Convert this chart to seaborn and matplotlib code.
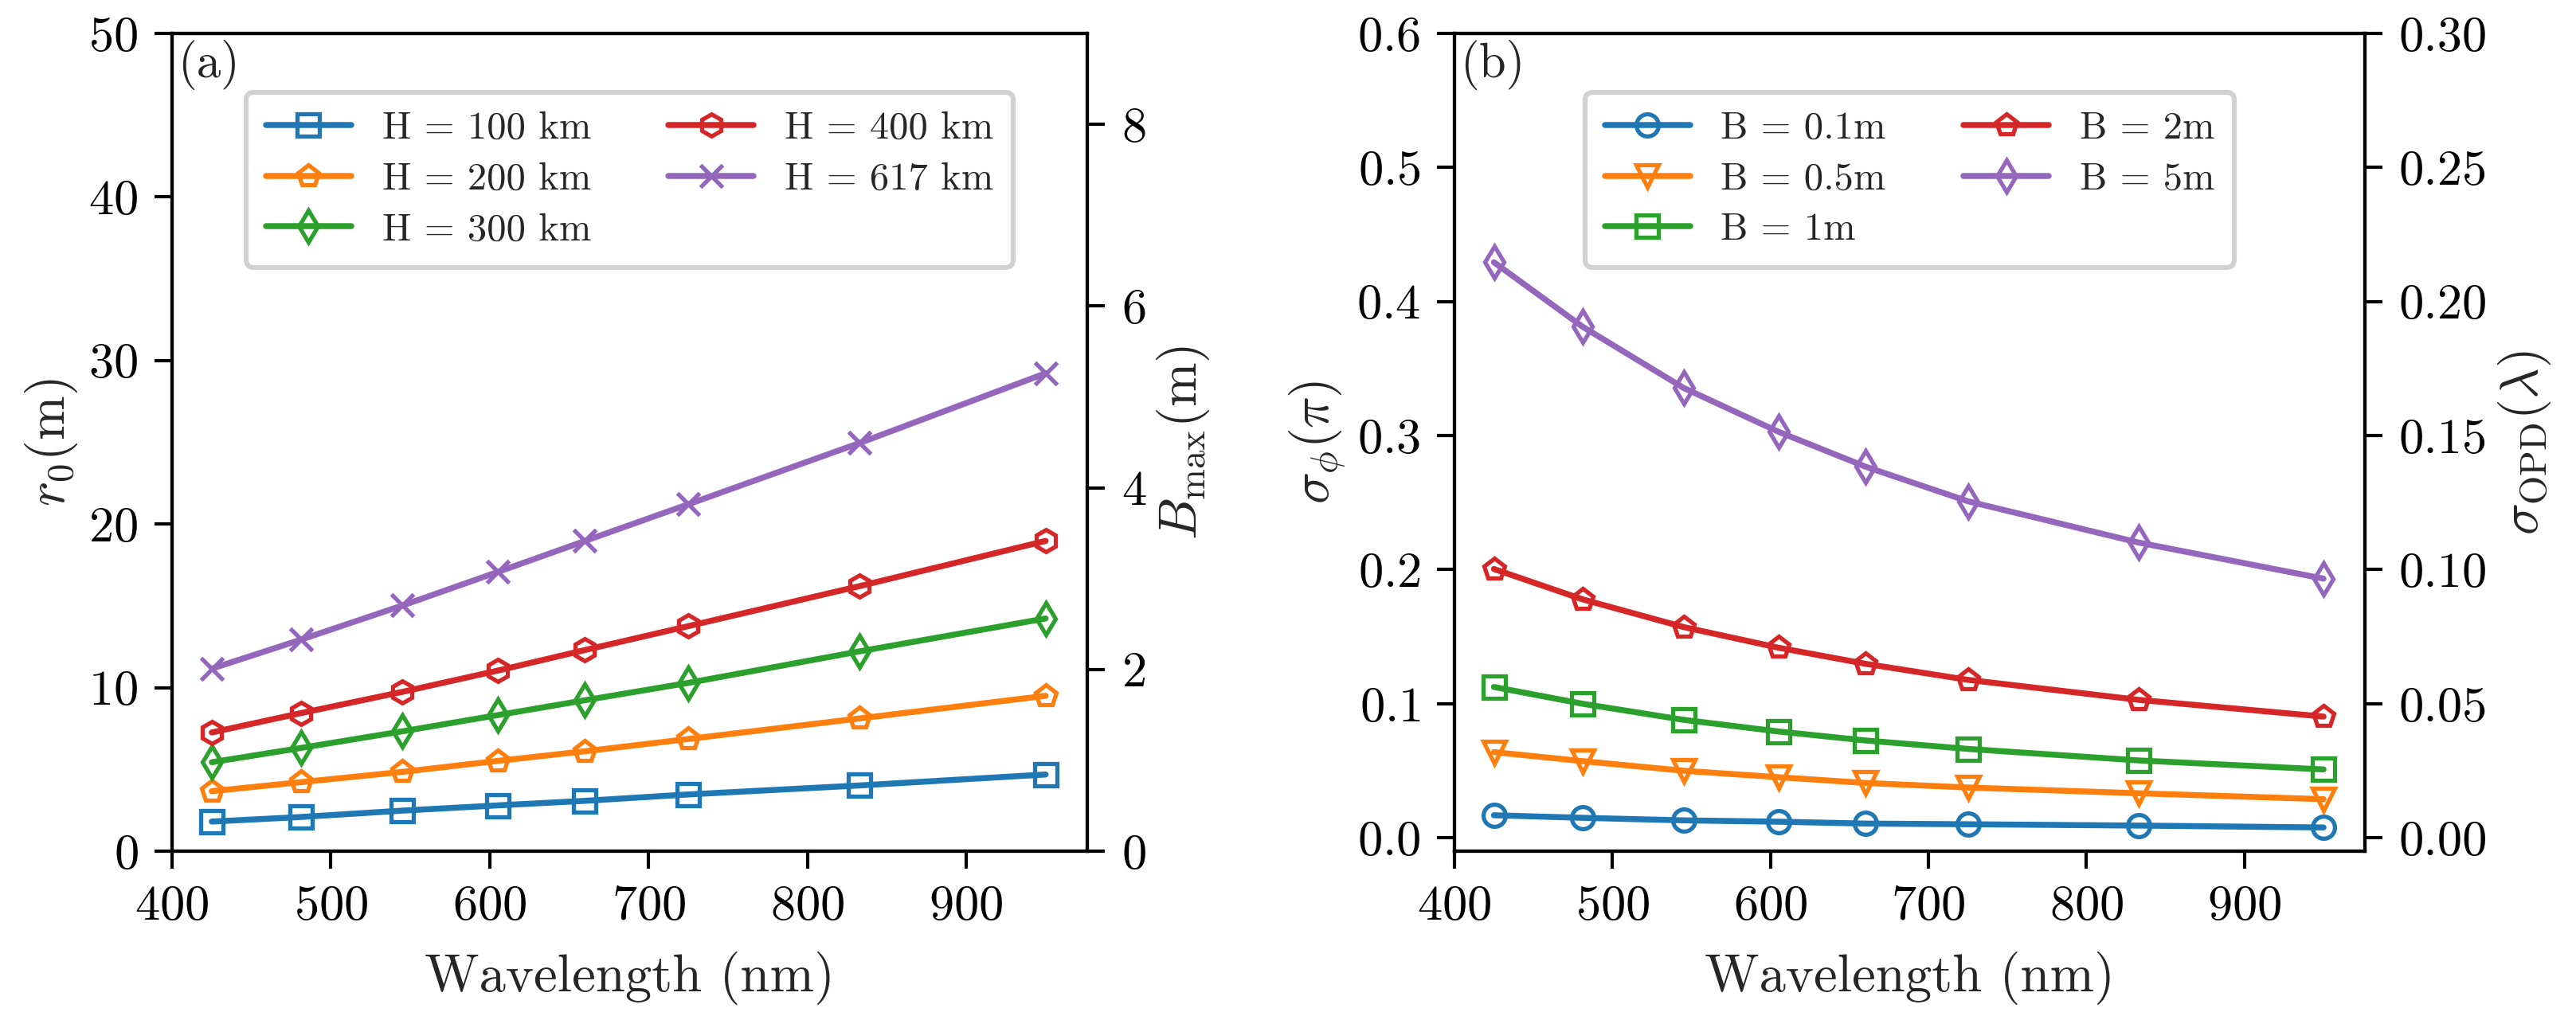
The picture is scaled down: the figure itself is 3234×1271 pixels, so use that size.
import numpy as np
import pandas as pd
import matplotlib
matplotlib.use("Agg")
import matplotlib.pyplot as plt
import seaborn as sns

# === datos ===
wavelength = [425, 481, 545, 605, 660, 725, 833, 950]

# (a) r0 (m) para varias alturas H
r0_h100 = [1.81, 2.09, 2.48, 2.80, 3.08, 3.47, 4.02, 4.69]
r0_h200 = [3.67, 4.22, 4.85, 5.52, 6.11, 6.86, 8.12, 9.50]
r0_h300 = [5.44, 6.31, 7.33, 8.32, 9.23, 10.29, 12.22, 14.23]
r0_h400 = [7.26, 8.44, 9.74, 11.04, 12.30, 13.76, 16.21, 18.97]
r0_h617 = [11.16, 12.93, 15.02, 17.07, 18.97, 21.21, 24.96, 29.22]
labels_a = ["H = 100 km", "H = 200 km", "H = 300 km", "H = 400 km", "H = 617 km"]
markers_a = ["s", "p", "d", "h", "x"]

# (b) sigma_phi (pi) para varias lineas de base B
sig_b01 = [0.0168, 0.0149, 0.0130, 0.0120, 0.0106, 0.0101, 0.0091, 0.0077]
sig_b05 = [0.0639, 0.0572, 0.0500, 0.0452, 0.0409, 0.0375, 0.0332, 0.0288]
sig_b1 = [0.1125, 0.1000, 0.0880, 0.0793, 0.0726, 0.0663, 0.0577, 0.0510]
sig_b2 = [0.2005, 0.1779, 0.1572, 0.1418, 0.1298, 0.1178, 0.1029, 0.0904]
sig_b5 = [0.4293, 0.3813, 0.3356, 0.3029, 0.2769, 0.2510, 0.2202, 0.1933]
labels_b = ["B = 0.1m", "B = 0.5m", "B = 1m", "B = 2m", "B = 5m"]
markers_b = ["o", "v", "s", "p", "d"]

# === estilo ===
sns.set_style("ticks")
plt.rcParams.update({
    "font.family": "serif",
    "font.serif": ["cmr10", "DejaVu Serif"],
    "mathtext.fontset": "cm",
    "axes.formatter.use_mathtext": True,
    "axes.unicode_minus": False,
    "axes.linewidth": 1.5,
    "xtick.major.width": 1.5,
    "ytick.major.width": 1.5,
    "xtick.major.size": 7.8,
    "ytick.major.size": 7.8,
    "xtick.major.pad": 7.5,
    "ytick.major.pad": 7.5,
    "xtick.color": "black",
    "ytick.color": "black",
    "axes.edgecolor": "black",
    "xtick.labelsize": 22.5,
    "ytick.labelsize": 22.5,
    "axes.labelsize": 24,
})
colors = sns.color_palette("tab10")

fig = plt.figure(figsize=(16.17, 6.355), dpi=200)
ax_a = fig.add_axes([0.0668, 0.1589, 0.3553, 0.8081])
ax_b = fig.add_axes([0.5646, 0.1589, 0.3535, 0.8081])


def draw(ax, series, labels, markers):
    for i, (vals, lab, mk) in enumerate(zip(series, labels, markers)):
        df = pd.DataFrame({"wl": wavelength, "val": vals})
        sns.lineplot(data=df, x="wl", y="val", ax=ax, color=colors[i],
                     marker=mk, markersize=10, markerfacecolor="none",
                     markeredgecolor=colors[i], markeredgewidth=1.9,
                     linewidth=2.7, label=lab)


def legend(ax):
    leg = ax.legend(loc="upper center", bbox_to_anchor=(0.5, 0.952), ncol=2,
                    fontsize=17.5, handlelength=2.2, columnspacing=2.0,
                    labelspacing=0.4, edgecolor="0.82", framealpha=1,
                    borderpad=0.5)
    leg.get_frame().set_linewidth(2.2)


# --- panel (a) ---
draw(ax_a, [r0_h100, r0_h200, r0_h300, r0_h400, r0_h617], labels_a, markers_a)
ax_a.set_xlim(400, 976.25)
ax_a.set_ylim(0, 50)
ax_a.set_xlabel("Wavelength (nm)", labelpad=10)
ax_a.set_ylabel(r"$r_0$(m)")
legend(ax_a)
ax_a.text(0.006, 0.992, "(a)", transform=ax_a.transAxes, fontsize=22,
          va="top", ha="left")
tw_a = ax_a.twinx()
tw_a.set_ylim(0, 9)
tw_a.set_yticks([0, 2, 4, 6, 8])
tw_a.set_ylabel(r"$B_{\rm max}$(m)")

# --- panel (b) ---
draw(ax_b, [sig_b01, sig_b05, sig_b1, sig_b2, sig_b5], labels_b, markers_b)
ax_b.set_xlim(400, 976.25)
ax_b.set_ylim(-0.01, 0.6)
ax_b.set_xlabel("Wavelength (nm)", labelpad=10)
ax_b.set_ylabel(r"$\sigma_\phi(\pi)$")
legend(ax_b)
ax_b.text(0.006, 0.992, "(b)", transform=ax_b.transAxes, fontsize=22,
          va="top", ha="left")
tw_b = ax_b.twinx()
tw_b.set_ylim(-0.005, 0.3)
tw_b.set_yticks([0.0, 0.05, 0.10, 0.15, 0.20, 0.25, 0.30])
tw_b.set_yticklabels(["0.00", "0.05", "0.10", "0.15", "0.20", "0.25", "0.30"])
tw_b.set_ylabel(r"$\sigma_{\rm OPD}(\lambda)$")

for ax in [ax_a, ax_b]:
    ax.set_xticks([400, 500, 600, 700, 800, 900])

fig.savefig("out.png", dpi=200)
